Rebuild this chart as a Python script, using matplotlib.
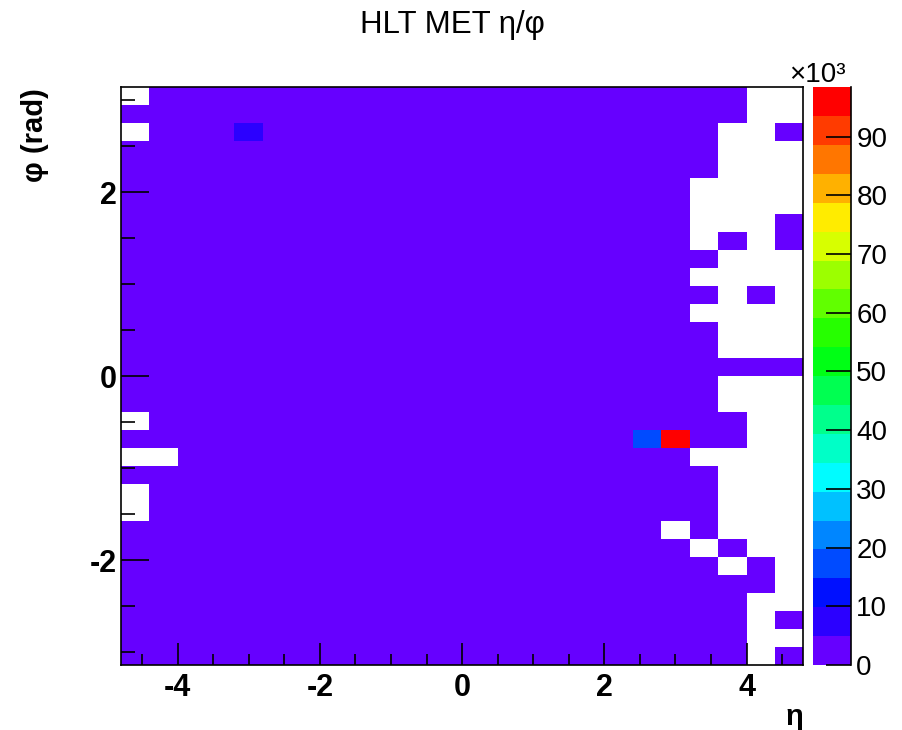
import colorsys
import numpy as np
import matplotlib
matplotlib.use('Agg')
import matplotlib.pyplot as plt
from matplotlib.colors import ListedColormap, BoundaryNorm

plt.rcParams['font.family'] = ['Liberation Sans', 'DejaVu Sans']
plt.rcParams['axes.unicode_minus'] = False

# histogram binning: 24 bins in eta, 32 bins in phi
eta_edges = np.linspace(-4.8, 4.8, 25)
phi_edges = np.linspace(-np.pi, np.pi, 33)

# occupancy, top row = phi near +pi
# 'o' = filled (lowest colour band), '.' = empty bin
occupancy = [
    ".ooooooooooooooooooooo..",
    "oooooooooooooooooooooo..",
    ".oooooooooooooooooooo..o",
    "ooooooooooooooooooooo...",
    "ooooooooooooooooooooo...",
    "oooooooooooooooooooo....",
    "oooooooooooooooooooo....",
    "oooooooooooooooooooo...o",
    "oooooooooooooooooooo.o.o",
    "ooooooooooooooooooooo...",
    "oooooooooooooooooooo....",
    "ooooooooooooooooooooo.o.",
    "oooooooooooooooooooo....",
    "ooooooooooooooooooooo...",
    "ooooooooooooooooooooo...",
    "oooooooooooooooooooooooo",
    "ooooooooooooooooooooo...",
    "ooooooooooooooooooooo...",
    ".ooooooooooooooooooooo..",
    "oooooooooooooooooooooo..",
    "..oooooooooooooooooo....",
    "ooooooooooooooooooooo...",
    ".oooooooooooooooooooo...",
    ".oooooooooooooooooooo...",
    "ooooooooooooooooooo.o...",
    "oooooooooooooooooooo.o..",
    "ooooooooooooooooooooo.o.",
    "ooooooooooooooooooooooo.",
    "oooooooooooooooooooooo..",
    "oooooooooooooooooooooo.o",
    "oooooooooooooooooooooo..",
    "oooooooooooooooooooooo.o",
]
low_count = 2000

# bins that stand out
hot_eta = [-3.0, 2.6, 3.0]
hot_phi = [2.65, -0.69, -0.69]
hot_counts = [7000, 17000, 98400]

z_max = 98400
n_levels = 20

counts = np.array([[low_count if c == 'o' else 0 for c in row] for row in occupancy], dtype=float)
counts = np.flipud(counts)
for e, p, v in zip(hot_eta, hot_phi, hot_counts):
    i = np.searchsorted(phi_edges, p) - 1
    j = np.searchsorted(eta_edges, e) - 1
    counts[i, j] = v
counts = np.ma.masked_equal(counts, 0)

# ROOT-like rainbow palette, purple -> red
colors = [colorsys.hsv_to_rgb((264 - 264 * k / (n_levels - 1)) / 360.0, 1, 1) for k in range(n_levels)]
cmap = ListedColormap(colors)
cmap.set_bad('white')
levels = np.linspace(0, z_max, n_levels + 1)
norm = BoundaryNorm(levels, cmap.N)

W, H = 903, 730
fig = plt.figure(figsize=(W / 100, H / 100), dpi=100)
ax = fig.add_axes([120.7 / W, 1 - 665 / H, (803.5 - 120.7) / W, (665 - 87.3) / H])
ax.pcolormesh(eta_edges, phi_edges, counts, cmap=cmap, norm=norm, antialiased=False, linewidth=0)
ax.set_xlim(eta_edges[0], eta_edges[-1])
ax.set_ylim(phi_edges[0], phi_edges[-1])

ax.set_xticks([-4, -2, 0, 2, 4])
ax.set_xticks(np.arange(-4.5, 4.8, 0.5), minor=True)
ax.set_yticks([-2, 0, 2])
ax.set_yticks(np.arange(-3, 3.1, 0.5), minor=True)
ax.tick_params(axis='x', which='major', direction='in', length=16, width=1.2, labelsize=22, pad=6)
ax.tick_params(axis='x', which='minor', direction='in', length=8, width=1.2)
ax.tick_params(axis='y', which='major', direction='in', length=20, width=1.2, labelsize=22, pad=3)
ax.tick_params(axis='y', which='minor', direction='in', length=10, width=1.2)
for lab in ax.get_xticklabels() + ax.get_yticklabels():
    lab.set_fontweight('bold')
for s in ax.spines.values():
    s.set_linewidth(1.2)

fig.text(452 / W, 1 - 25 / H, 'HLT MET η/φ', ha='center', va='center', fontsize=22.5)
fig.text(803 / W, 1 - 717 / H, 'η', ha='right', va='center', fontsize=21, fontweight='bold')
fig.text(35 / W, 1 - 88 / H, 'φ (rad)', ha='center', va='top', rotation=90, fontsize=21, fontweight='bold')

# palette axis
cax = fig.add_axes([812.7 / W, 1 - 665 / H, (850.7 - 812.7) / W, (665 - 87.3) / H])
cb = fig.colorbar(plt.cm.ScalarMappable(norm=norm, cmap=cmap), cax=cax, boundaries=levels)
cb.outline.set_visible(False)
cax.plot([1, 1], [0, 1], transform=cax.transAxes, color='black', lw=1.2, clip_on=False)
tick_vals = np.arange(0, 91000, 10000)
cb.set_ticks(tick_vals)
cb.set_ticklabels([str(int(v / 1000)) for v in tick_vals])
cax.minorticks_off()
cax.tick_params(axis='y', direction='in', length=18, width=1.2, labelsize=20, pad=4, right=True, left=False)
fig.text(846 / W, 1 - 75 / H, '×10³', ha='right', va='center', fontsize=20)

fig.savefig('out.png', dpi=100)
